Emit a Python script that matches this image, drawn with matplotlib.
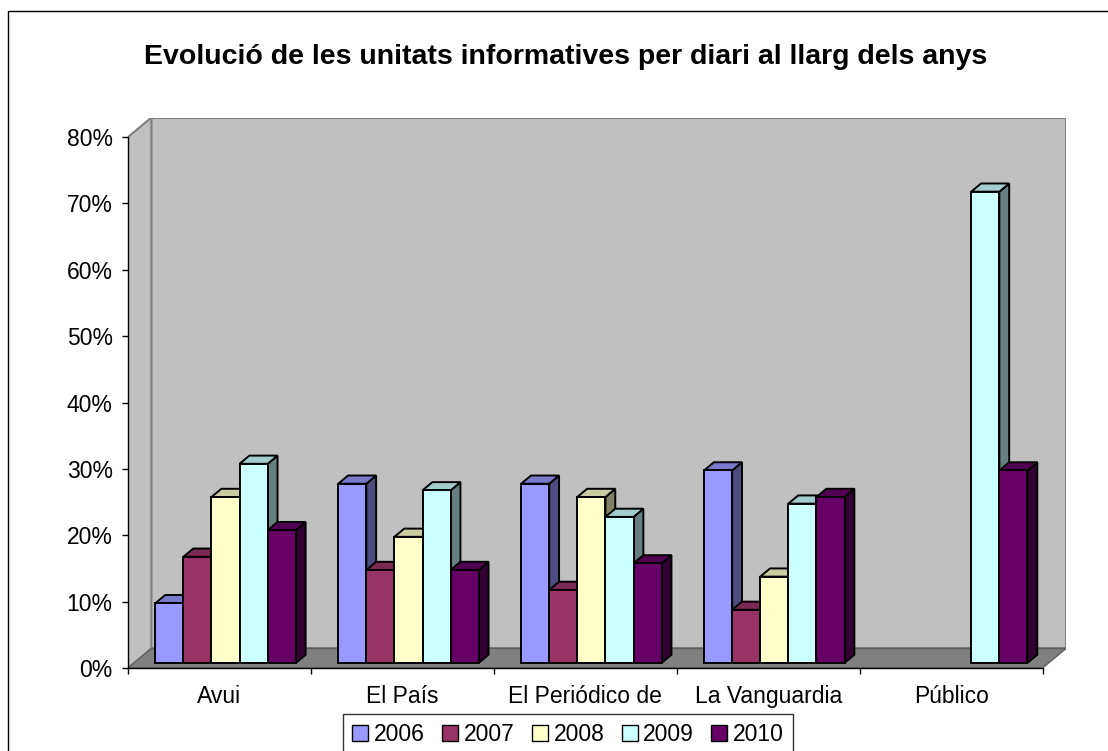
import matplotlib
matplotlib.use("Agg")
import matplotlib.pyplot as plt
import matplotlib.colors as mcolors
from matplotlib.patches import Polygon, Patch
from matplotlib.lines import Line2D
import numpy as np

plt.rcParams['font.family'] = ['Liberation Sans', 'DejaVu Sans']

papers = ['Avui', 'El País', 'El Periódico de', 'La Vanguardia', 'Público']
years = ['2006', '2007', '2008', '2009', '2010']
y2006 = [9, 27, 27, 29, None]
y2007 = [16, 14, 11, 8, None]
y2008 = [25, 19, 25, 13, None]
y2009 = [30, 26, 22, 24, 71]
y2010 = [20, 14, 15, 25, 29]
colors = ['#9999FF', '#993366', '#FFFFCC', '#CCFFFF', '#660066']
yticks = [0, 10, 20, 30, 40, 50, 60, 70, 80]

# fake 3D: depth offset of the floor in data units
DX, DY = 0.128, 2.94
F0, FD = 0.26, 0.42   # bar front position and bar depth (fraction of floor depth)
W = 0.1536            # bar width
GAP = (1 - 5 * W) / 2


def shade(c, k):
    return tuple(np.array(mcolors.to_rgb(c)) * k)


def draw_bar(ax, x, v, col):
    x0, y0 = x + F0 * DX, F0 * DY
    dx, dy = FD * DX, FD * DY
    side = [(x0 + W, y0), (x0 + W + dx, y0 + dy), (x0 + W + dx, y0 + v + dy), (x0 + W, y0 + v)]
    top = [(x0, y0 + v), (x0 + W, y0 + v), (x0 + W + dx, y0 + v + dy), (x0 + dx, y0 + v + dy)]
    front = [(x0, y0), (x0 + W, y0), (x0 + W, y0 + v), (x0, y0 + v)]
    for pts, fc in ((side, shade(col, 0.5)), (top, shade(col, 0.8)), (front, col)):
        ax.add_patch(Polygon(pts, closed=True, facecolor=fc, edgecolor='black',
                             lw=1.4, joinstyle='miter', zorder=3, clip_on=False))


fig = plt.figure(figsize=(11.08, 7.51), dpi=100)
ax = fig.add_axes([128 / 1108, 83 / 751, 938 / 1108, 550.5 / 751])
ax.set_xlim(0, 5 + DX)
ax.set_ylim(0, 80 + DY)
ax.set_facecolor('none')

# walls and floor
wall = '#C0C0C0'
edge = '#808080'
ax.add_patch(Polygon([(DX, DY), (5 + DX, DY), (5 + DX, 80 + DY), (DX, 80 + DY)],
                     facecolor=wall, edgecolor=edge, lw=1.5, zorder=0.5))
ax.add_patch(Polygon([(0, 0), (DX, DY), (DX, 80 + DY), (0, 80)],
                     facecolor=wall, edgecolor=edge, lw=1.5, zorder=0.6))
ax.add_patch(Polygon([(0, 0), (5, 0), (5 + DX, DY), (DX, DY)],
                     facecolor='#808080', edgecolor='#606060', lw=1.0, zorder=0.7))

series = [y2006, y2007, y2008, y2009, y2010]
for i in range(len(papers)):
    for j, vals in enumerate(series):
        v = vals[i]
        if v is None:
            continue
        draw_bar(ax, i + GAP + j * W, v, colors[j])

for s in ['top', 'right']:
    ax.spines[s].set_visible(False)
ax.spines['left'].set_bounds(0, 80)
ax.spines['bottom'].set_bounds(0, 5)
for s in ['left', 'bottom']:
    ax.spines[s].set_linewidth(1.0)
    ax.spines[s].set_zorder(4)

ax.set_yticks(yticks)
ax.set_yticklabels([f'{t}%' for t in yticks])
ax.tick_params(axis='y', length=4.5, width=1.0, pad=6.5, labelsize=16.5)
ax.set_xticks(range(6))
ax.set_xticklabels([])
ax.set_xticks(np.arange(5) + 0.5, minor=True)
ax.set_xticklabels(papers, minor=True)
ax.tick_params(axis='x', which='major', length=4.5, width=1.0)
ax.tick_params(axis='x', which='minor', length=0, pad=12, labelsize=16.5)

fig.text(566 / 1108, 1 - 57 / 751, 'Evolució de les unitats informatives per diari al llarg dels anys',
         ha='center', va='center', fontsize=20.5, fontweight='bold')

handles = [Patch(facecolor=c, edgecolor='black', lw=1.0) for c in colors]
leg = fig.legend(handles, years, loc='upper left', bbox_to_anchor=(343 / 1108, 1 - 714 / 751),
                 ncol=5, fontsize=16.5, frameon=True, fancybox=False, handlelength=0.7,
                 handleheight=0.7, handletextpad=0.25, columnspacing=0.75, borderpad=0.4,
                 borderaxespad=0)
leg.get_frame().set_edgecolor('black')
leg.get_frame().set_linewidth(1.0)

# outer chart border (left and top edges)
fig.add_artist(Line2D([8 / 1108, 8 / 1108, 1], [0, 1 - 11 / 751, 1 - 11 / 751],
                      transform=fig.transFigure, color='black', lw=1.0))

fig.savefig('out.png', dpi=100)
